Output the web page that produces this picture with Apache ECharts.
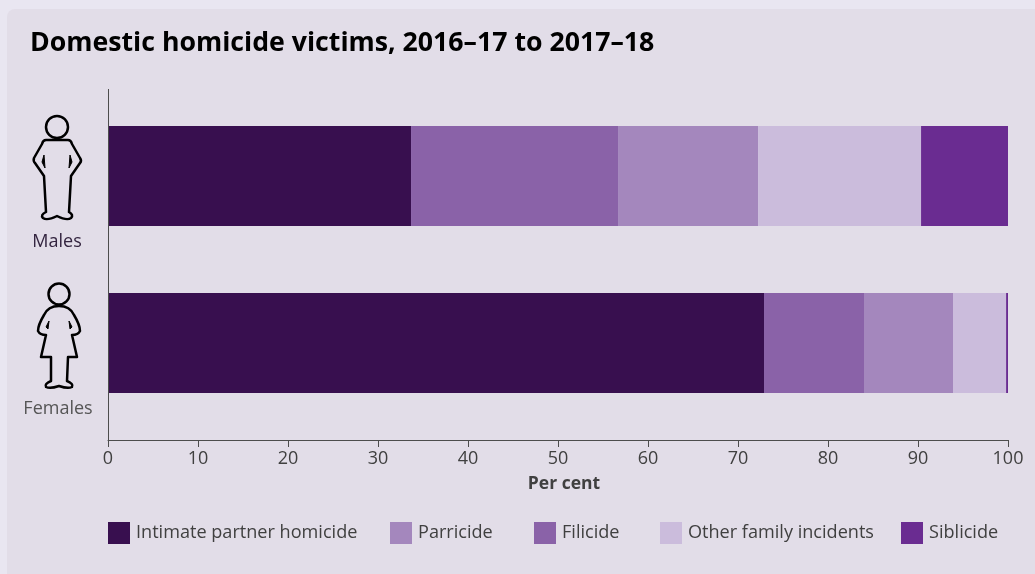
<!DOCTYPE html>
<html><head><meta charset="utf-8">
<style>html,body{margin:0;padding:0;background:#e9e6f1;}#c{width:1035px;height:574px;}</style>
<script src="https://cdn.jsdelivr.net/npm/echarts@6/dist/echarts.min.js"></script>
</head><body><div id="c"></div>
<script>
const categories = ['Males', 'Females'];
const xTicks = [0, 10, 20, 30, 40, 50, 60, 70, 80, 90, 100];
const intimatePartner = [33.67, 72.89];
const filicide = [23.0, 11.11];
const parricide = [15.56, 9.89];
const otherFamily = [18.11, 5.9];
const siblicide = [9.66, 0.21];

const FONT = '"Open Sans", "Noto Sans", sans-serif';
const names = ['Intimate partner homicide', 'Parricide', 'Filicide', 'Other family incidents', 'Siblicide'];
const legendLeft = [108, 390, 534, 660, 901];
const colors = {'Intimate partner homicide':'#380f4f', 'Parricide':'#a487bd', 'Filicide':'#8a62a8', 'Other family incidents':'#cbbcdc', 'Siblicide':'#6a2c91'};
const stackOrder = [
  ['Intimate partner homicide', intimatePartner],
  ['Filicide', filicide],
  ['Parricide', parricide],
  ['Other family incidents', otherFamily],
  ['Siblicide', siblicide]
];

echarts.graphic.registerShape('maleFig', echarts.graphic.extendPath('M46 140 Q43 140 42 144 L34 158 Q33 161 35 163 L44 176 L46 212 Q40 215 43 218 Q47 221 57 216 Q67 221 71 218 Q74 215 69 212 L71 176 L80 163 Q82 161 80 158 L72 144 Q71 140 68 140 Z', {}));
echarts.graphic.registerShape('maleArm', echarts.graphic.extendPath('M44 155 L42 162 L45 168 Z M70 155 L72 162 L69 168 Z', {}));
echarts.graphic.registerShape('femaleFig', echarts.graphic.extendPath('M59 306 Q48 306 44 315 Q38 325 38 331 Q40 335 46 335 L41 357 L51 357 L51 381 Q44 384 46 387 Q50 389 59 386 Q68 389 72 387 Q74 384 67 381 L68 357 L77 357 L72 335 Q78 335 80 331 Q80 325 74 315 Q70 306 59 306 Z', {}));
echarts.graphic.registerShape('femaleArm', echarts.graphic.extendPath('M49 321 L46 327 L48 329 Z M69 321 L72 327 L70 329 Z', {}));
const stroke = {stroke:'#000', fill:'none', lineWidth:2.5, lineJoin:'round', lineCap:'round'};
const solid = {fill:'#000', stroke:'#000', lineWidth:1};

const graphicEls = [
  {type:'rect', shape:{x:7,y:9,width:1040,height:575,r:8}, style:{fill:'#e2dde8'}, z:-10, silent:true},
  {type:'line', shape:{x1:108.5,y1:89,x2:108.5,y2:440}, style:{stroke:'#4d4d4d',lineWidth:1}, z:20, silent:true},
  {type:'circle', shape:{cx:57,cy:127,r:11}, style:stroke, silent:true},
  {type:'maleFig', style:stroke, silent:true},
  {type:'maleArm', style:solid, silent:true},
  {type:'circle', shape:{cx:59,cy:294,r:10.5}, style:stroke, silent:true},
  {type:'femaleFig', style:stroke, silent:true},
  {type:'femaleArm', style:solid, silent:true},
  {type:'text', silent:true, style:{text:'Males', x:57, y:242, align:'center', verticalAlign:'middle', font:'18px '+FONT, fill:'#33243f'}},
  {type:'text', silent:true, style:{text:'Females', x:58, y:409, align:'center', verticalAlign:'middle', font:'18px '+FONT, fill:'#555555'}}
];

const option = {
  animation:false,
  backgroundColor:'#e9e6f1',
  textStyle:{fontFamily:FONT},
  title:{text:'Domestic homicide victims, 2016–17 to 2017–18', left:25, top:25, textStyle:{fontFamily:FONT, fontSize:26.7, fontWeight:'bold', color:'#000'}},
  grid:{left:108, right:27, top:92.5, height:334},
  xAxis:{type:'value', min:0, max:100, interval:10, offset:13.5, position:'bottom',
    name:'Per cent', nameLocation:'middle', nameGap:35, nameTextStyle:{fontFamily:FONT,fontSize:17.5,fontWeight:'bold',color:'#404040',padding:[0,0,0,12]},
    axisLine:{show:true,lineStyle:{color:'#4d4d4d',width:1}},
    axisTick:{show:true,length:7,inside:false,lineStyle:{color:'#4d4d4d'}},
    axisLabel:{fontFamily:FONT,fontSize:18,color:'#404040',margin:10, hideOverlap:false, showMinLabel:true, showMaxLabel:true},
    splitLine:{show:false}},
  yAxis:{type:'category', inverse:true, data:categories, axisLine:{show:false}, axisTick:{show:false}, axisLabel:{show:false}},
  legend: names.map((n,i)=>({data:[n], left:legendLeft[i], top:522, padding:0, itemWidth:22, itemHeight:22, icon:'rect', itemStyle:{borderWidth:0},
    textStyle:{fontFamily:FONT,fontSize:18.1,color:'#404040',padding:[2,0,0,1]}, selectedMode:false})),
  series: stackOrder.map(([n,d])=>({name:n, type:'bar', stack:'all', data:d, barWidth:100, itemStyle:{color:colors[n]}, emphasis:{disabled:true}})),
  graphic:{elements:graphicEls}
};
const chart = echarts.init(document.getElementById('c'), null, {renderer:'canvas'});
chart.setOption(option);
</script></body></html>
